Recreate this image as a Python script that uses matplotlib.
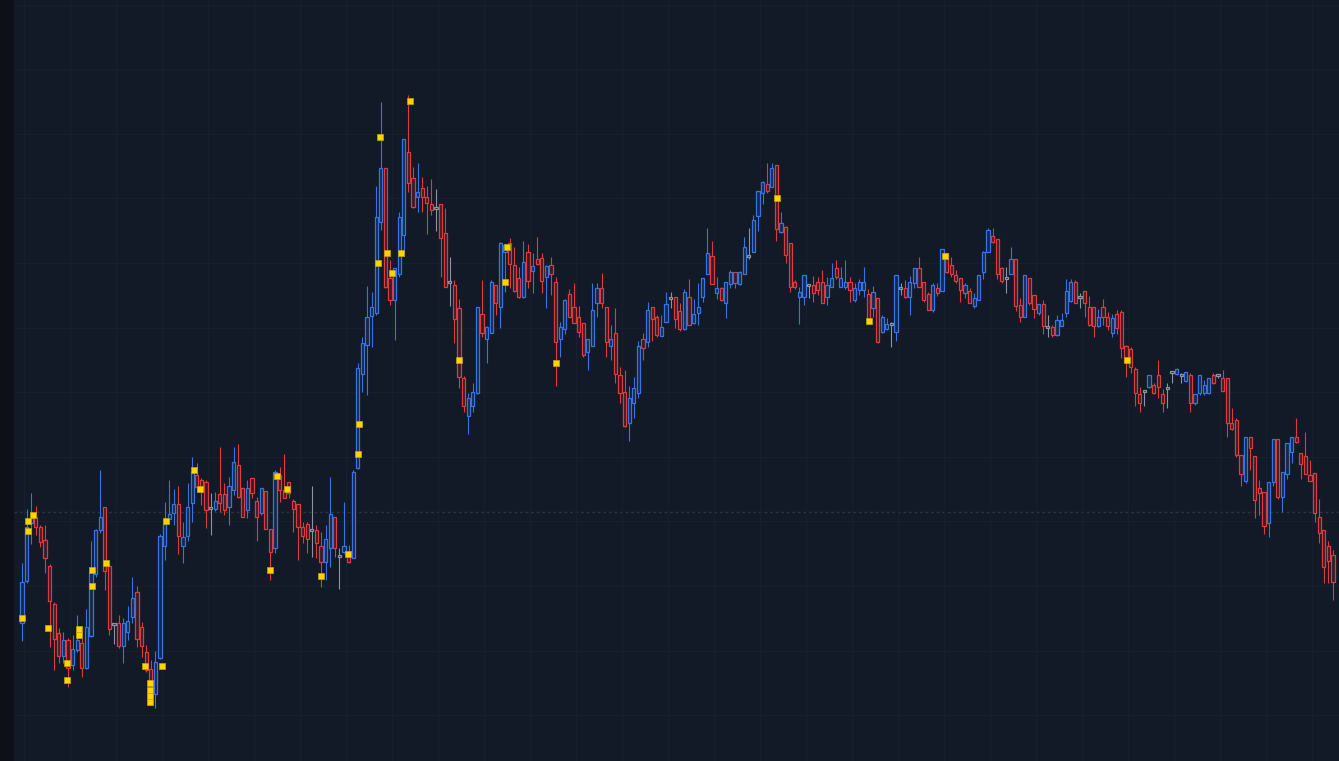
import numpy as np
import matplotlib.pyplot as plt
from matplotlib.colors import to_rgb

BG = "#131a27"
EDGE_BG = "#0d1117"
UP = "#3674e6"
DOWN = "#e23a3c"
FLAT = "#8c94a3"
MARK = "#ffd400"

opens = [177, 219, 277, 283, 273, 260, 234, 196, 167, 144, 160, 135, 150, 157, 132, 164, 226, 270, 293, 234,
         175, 177, 154, 168, 183, 208, 173, 148, 131, 106, 142, 254, 281, 287, 296, 254, 264, 297, 325, 320,
         318, 291, 291, 306, 306, 293, 310, 335, 312, 290, 322, 299, 287, 309, 271, 252, 325, 310, 318, 299,
         296, 273, 276, 269, 270, 254, 238, 252, 283, 243, 248, 248, 242, 332, 426, 455, 484, 487, 578, 632,
         522, 500, 526, 565, 648, 622, 603, 612, 603, 596, 591, 596, 567, 517, 515, 492, 422, 384, 394, 407,
         486, 461, 467, 515, 493, 548, 557, 535, 522, 503, 548, 529, 541, 542, 523, 535, 518, 461, 471, 506,
         493, 483, 477, 448, 454, 497, 512, 493, 454, 467, 425, 408, 377, 397, 407, 461, 458, 493, 483, 464,
         478, 501, 503, 489, 471, 503, 477, 487, 503, 526, 544, 507, 512, 497, 516, 528, 516, 526, 543, 548,
         584, 607, 616, 613, 635, 568, 573, 557, 518, 503, 503, 514, 515, 518, 518, 503, 513, 532, 513, 513,
         518, 500, 510, 510, 506, 492, 502, 468, 471, 475, 468, 511, 512, 503, 517, 532, 518, 506, 490, 512,
         509, 547, 535, 525, 522, 507, 509, 494, 500, 528, 548, 564, 561, 532, 521, 526, 541, 495, 483, 522,
         505, 487, 496, 472, 473, 465, 474, 487, 499, 518, 502, 509, 493, 493, 474, 493, 483, 467, 486, 488,
         454, 451, 431, 406, 408, 413, 415, 425, 406, 411, 427, 426, 424, 419, 425, 397, 407, 407, 407, 425,
         424, 422, 422, 377, 380, 345, 319, 363, 344, 312, 308, 277, 318, 361, 303, 326, 348, 363, 347, 344,
         325, 327, 283, 270, 254, 245]
highs = [237, 291, 307, 294, 275, 275, 236, 198, 172, 168, 162, 165, 185, 162, 191, 259, 271, 330, 293, 237,
         177, 185, 182, 194, 223, 214, 178, 155, 140, 149, 266, 298, 320, 311, 314, 278, 317, 343, 337, 322,
         320, 307, 308, 353, 317, 323, 353, 356, 312, 320, 322, 303, 312, 309, 271, 330, 333, 346, 318, 301,
         296, 278, 278, 314, 275, 268, 275, 323, 283, 252, 298, 255, 330, 437, 463, 514, 508, 614, 698, 632,
         540, 532, 588, 661, 705, 633, 637, 623, 614, 621, 611, 596, 592, 543, 520, 501, 424, 407, 417, 493,
         520, 474, 520, 515, 558, 556, 562, 553, 533, 559, 556, 547, 563, 547, 535, 543, 523, 478, 501, 511,
         517, 494, 477, 461, 517, 517, 527, 493, 475, 492, 433, 430, 414, 423, 459, 467, 498, 493, 485, 485,
         508, 508, 503, 497, 511, 521, 501, 517, 522, 572, 559, 523, 513, 518, 530, 528, 529, 563, 572, 585,
         609, 619, 637, 637, 635, 588, 574, 557, 520, 513, 525, 515, 524, 523, 530, 523, 537, 540, 533, 540,
         523, 517, 521, 533, 511, 514, 502, 485, 482, 478, 525, 517, 520, 524, 532, 543, 518, 508, 517, 517,
         551, 547, 543, 530, 522, 517, 512, 507, 525, 549, 572, 572, 561, 533, 533, 553, 541, 502, 525, 522,
         505, 496, 500, 485, 475, 485, 487, 521, 521, 520, 507, 509, 504, 493, 491, 501, 488, 486, 490, 490,
         455, 453, 433, 413, 409, 425, 417, 440, 411, 417, 428, 432, 427, 428, 427, 406, 425, 420, 422, 427,
         425, 430, 422, 392, 382, 345, 363, 363, 344, 320, 308, 318, 361, 361, 328, 357, 363, 382, 347, 368,
         340, 327, 301, 270, 259, 250]
lows = [159, 217, 256, 265, 253, 227, 153, 130, 137, 137, 113, 130, 148, 123, 131, 163, 223, 267, 210, 165,
        156, 152, 137, 160, 177, 153, 143, 128, 95, 92, 141, 240, 277, 275, 246, 237, 259, 278, 308, 295,
        272, 265, 289, 288, 285, 275, 305, 302, 283, 282, 302, 259, 285, 271, 220, 247, 298, 302, 302, 268,
        240, 257, 247, 243, 242, 213, 220, 233, 243, 211, 247, 237, 242, 331, 408, 405, 453, 485, 570, 512,
        495, 460, 523, 547, 608, 592, 588, 588, 566, 585, 569, 523, 513, 494, 457, 412, 388, 366, 388, 406,
        463, 437, 467, 485, 472, 508, 512, 508, 502, 502, 512, 507, 535, 507, 492, 505, 414, 443, 466, 483,
        477, 463, 443, 430, 454, 483, 492, 443, 440, 417, 397, 373, 359, 382, 402, 440, 453, 459, 463, 464,
        478, 492, 472, 469, 470, 475, 476, 475, 498, 526, 516, 501, 499, 482, 512, 512, 515, 526, 541, 548,
        569, 596, 607, 613, 559, 567, 537, 508, 511, 476, 495, 502, 498, 505, 497, 495, 513, 521, 513, 511,
        498, 498, 505, 503, 476, 483, 457, 467, 470, 453, 459, 505, 502, 485, 512, 513, 498, 490, 488, 504,
        509, 527, 523, 517, 498, 502, 497, 492, 500, 521, 548, 557, 521, 517, 507, 526, 489, 478, 483, 495,
        482, 485, 466, 463, 463, 464, 474, 483, 498, 497, 492, 483, 474, 463, 473, 475, 470, 463, 466, 442,
        423, 427, 394, 388, 394, 412, 406, 402, 388, 392, 417, 425, 417, 418, 388, 395, 405, 405, 406, 416,
        422, 409, 363, 370, 343, 314, 317, 330, 282, 285, 266, 263, 314, 301, 288, 321, 337, 357, 321, 326,
        319, 278, 257, 217, 217, 200]
closes = [218, 273, 282, 273, 258, 242, 199, 161, 144, 160, 132, 151, 160, 132, 173, 228, 270, 283, 229, 171,
          175, 154, 177, 179, 202, 161, 154, 130, 110, 138, 264, 276, 286, 296, 264, 263, 293, 328, 313, 310,
          290, 291, 299, 297, 290, 314, 338, 303, 283, 312, 307, 283, 312, 271, 248, 328, 310, 302, 307, 291,
          273, 264, 261, 269, 257, 238, 261, 286, 252, 243, 254, 238, 328, 432, 457, 483, 493, 583, 632, 513,
          500, 532, 583, 661, 617, 593, 608, 603, 597, 590, 591, 562, 513, 517, 481, 423, 394, 402, 408, 493,
          467, 473, 518, 497, 557, 555, 536, 509, 503, 538, 519, 534, 536, 519, 534, 526, 458, 473, 500, 483,
          477, 468, 445, 461, 490, 512, 497, 458, 461, 426, 407, 374, 402, 412, 454, 452, 490, 481, 465, 473,
          496, 501, 481, 471, 508, 475, 486, 493, 522, 547, 516, 512, 500, 518, 528, 517, 528, 553, 543, 580,
          609, 618, 609, 632, 571, 577, 545, 513, 513, 508, 525, 514, 507, 510, 497, 515, 522, 523, 522, 518,
          510, 512, 518, 518, 477, 508, 458, 483, 476, 475, 525, 511, 503, 518, 532, 513, 500, 490, 515, 507,
          551, 528, 526, 519, 510, 515, 497, 502, 525, 548, 570, 558, 526, 519, 521, 541, 494, 483, 525, 497,
          491, 496, 474, 472, 465, 480, 480, 509, 518, 497, 502, 497, 475, 474, 483, 483, 474, 482, 472, 452,
          438, 433, 407, 397, 408, 425, 407, 413, 397, 411, 427, 431, 424, 428, 397, 406, 425, 415, 422, 417,
          424, 409, 377, 371, 345, 326, 363, 352, 300, 307, 274, 318, 361, 303, 328, 357, 363, 358, 336, 326,
          319, 287, 267, 233, 239, 218]

# yellow signal marks (bar position, price)
mark_x = [0.0, 1.3, 1.3, 2.4, 5.65, 9.8, 9.8, 12.4, 12.4, 15.2, 15.2, 18.3, 26.7, 27.8, 27.8, 27.8, 27.8,
          30.4, 31.3, 37.4, 38.7, 53.9, 55.4, 57.5, 64.9, 70.9, 73.0, 73.3, 77.4, 77.8, 79.3, 80.4, 82.4,
          84.3, 95.0, 105.0, 105.4, 116.1, 164.1, 184.1, 200.7, 240.2]
mark_y = [182, 279, 269, 285, 172, 137, 120, 171, 165, 230, 214, 237, 134, 117, 110, 104, 98,
          134, 279, 330, 311, 230, 324, 311, 224, 246, 346, 376, 537, 663, 547, 527, 547,
          699, 440, 518, 553, 437, 602, 479, 544, 440]

ref_price = 288


def blend(c, a):
    b = np.array(to_rgb(BG))
    return tuple(b + a * (np.array(to_rgb(c)) - b))


o = np.array(opens, float)
h = np.array(highs, float)
l = np.array(lows, float)
c = np.array(closes, float)
x = np.arange(len(o))

cols = np.where(c > o, UP, np.where(c < o, DOWN, FLAT))

fig = plt.figure(figsize=(13.39, 7.61), dpi=100, facecolor=EDGE_BG)
ax = fig.add_axes([14 / 1339, 0, 1 - 14 / 1339, 1])
ax.set_facecolor(BG)

ax.set_xticks(np.arange(0.43, 290, 10))
ax.set_yticks(795.4 - 64.6 * np.arange(13))
ax.grid(True, color="#182030", lw=0.7)
ax.tick_params(length=0, labelbottom=False, labelleft=False)
for s in ax.spines.values():
    s.set_visible(False)

ax.axhline(ref_price, color="#2a3345", lw=1.0, ls=(0, (2, 2)), zorder=1)

ax.vlines(x, l, h, colors=cols, lw=0.8, zorder=2)
bottom = np.minimum(o, c)
height = np.maximum(np.abs(c - o), 2)
ax.bar(x, height, bottom=bottom, width=0.72,
       color=[blend(k, 0.14) for k in cols], edgecolor=cols, linewidth=0.9, zorder=3)

ax.scatter(mark_x, mark_y, marker="s", s=18, color=MARK, edgecolors="#c9a400", linewidths=0.5, zorder=4)

ax.set_xlim(-1.74, 286.3)
ax.set_ylim(39, 800)

fig.savefig("out.png", dpi=100, facecolor=fig.get_facecolor())
